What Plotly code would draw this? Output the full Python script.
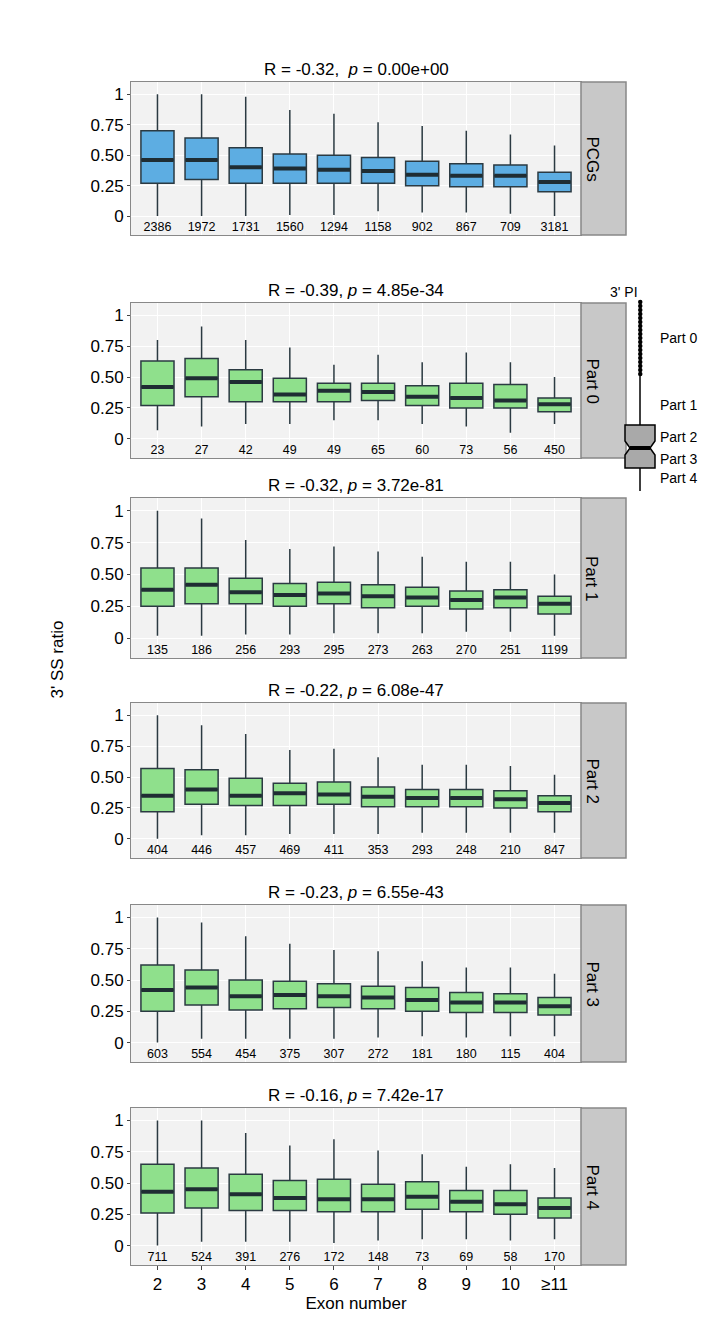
import plotly.graph_objects as go

W, H = 712, 1323

exons = ["2", "3", "4", "5", "6", "7", "8", "9", "10", "≥11"]
panels = ["PCGs", "Part 0", "Part 1", "Part 2", "Part 3", "Part 4"]
titles = [
    "R = -0.32,  <i>p</i> = 0.00e+00",
    "R = -0.39, <i>p</i> = 4.85e-34",
    "R = -0.32, <i>p</i> = 3.72e-81",
    "R = -0.22, <i>p</i> = 6.08e-47",
    "R = -0.23, <i>p</i> = 6.55e-43",
    "R = -0.16, <i>p</i> = 7.42e-17",
]

# per panel: lower whisker, q1, median, q3, upper whisker (one value per exon)
lo = [
    [0, 0, 0, .01, .01, .04, .03, .03, .02, 0],
    [.07, .10, .12, .12, .15, .15, .12, .10, .05, .12],
    [.02, .02, .03, .03, .04, .04, .04, .05, .05, .02],
    [0, .03, .03, .04, .04, .04, .05, .05, .05, .05],
    [0, .03, .03, .03, .03, .04, .05, .04, .05, .05],
    [0, .03, .03, .03, .02, .04, .05, .05, .04, .05],
]
q1 = [
    [.27, .30, .27, .27, .27, .27, .25, .24, .24, .20],
    [.27, .34, .30, .30, .30, .31, .27, .25, .25, .22],
    [.25, .27, .27, .25, .27, .24, .25, .23, .24, .19],
    [.22, .28, .27, .27, .28, .26, .26, .26, .25, .22],
    [.25, .30, .26, .27, .28, .27, .25, .24, .24, .22],
    [.26, .30, .28, .28, .27, .27, .29, .27, .25, .22],
]
med = [
    [.46, .46, .40, .39, .38, .37, .34, .33, .33, .28],
    [.42, .49, .46, .36, .39, .38, .34, .33, .31, .28],
    [.38, .42, .36, .34, .35, .33, .32, .30, .32, .27],
    [.35, .40, .35, .37, .36, .34, .33, .33, .32, .29],
    [.42, .44, .37, .38, .37, .36, .34, .32, .32, .29],
    [.43, .45, .41, .38, .37, .37, .39, .35, .33, .30],
]
q3 = [
    [.70, .64, .56, .51, .50, .48, .45, .43, .42, .36],
    [.63, .65, .56, .49, .45, .45, .43, .45, .44, .33],
    [.55, .55, .47, .43, .44, .42, .40, .37, .38, .33],
    [.57, .56, .49, .45, .46, .42, .40, .40, .39, .35],
    [.62, .58, .50, .49, .47, .45, .44, .40, .39, .36],
    [.65, .62, .57, .52, .53, .49, .51, .44, .44, .38],
]
hi = [
    [1, 1, .98, .87, .84, .77, .74, .70, .67, .58],
    [.80, .91, .80, .74, .60, .68, .62, .70, .62, .50],
    [1, .94, .77, .70, .72, .68, .64, .60, .60, .50],
    [1, .92, .85, .72, .73, .66, .60, .60, .59, .52],
    [1, .96, .85, .79, .74, .73, .65, .60, .60, .55],
    [1, 1, .90, .80, .85, .76, .73, .63, .65, .62],
]
counts = [
    [2386, 1972, 1731, 1560, 1294, 1158, 902, 867, 709, 3181],
    [23, 27, 42, 49, 49, 65, 60, 73, 56, 450],
    [135, 186, 256, 293, 295, 273, 263, 270, 251, 1199],
    [404, 446, 457, 469, 411, 353, 293, 248, 210, 847],
    [603, 554, 454, 375, 307, 272, 181, 180, 115, 404],
    [711, 524, 391, 276, 172, 148, 73, 69, 58, 170],
]

# panel pixel extents (top, bottom), in page pixels
pix = [(82, 235), (303, 458), (498, 658), (703, 858), (905, 1062), (1108, 1265)]
X0, X1, S1 = 131, 581, 626
OFF = 8  # page body margin
px = lambda x: (x - OFF) / W
py = lambda y: 1 - (y - OFF) / H

fig = go.Figure()
layout = dict(width=W, height=H, margin=dict(l=0, r=0, t=0, b=0),
              paper_bgcolor="white", showlegend=False,
              font=dict(family="Liberation Sans, Arial", color="black"))
shapes, annos = [], []

for i in range(6):
    ax = "" if i == 0 else str(i + 1)
    fill = "#5dade2" if i == 0 else "#8fe08c"
    fig.add_trace(go.Box(
        x=exons, q1=q1[i], median=med[i], q3=q3[i],
        lowerfence=lo[i], upperfence=hi[i],
        fillcolor=fill, line=dict(color="#2b3a42", width=1.5),
        width=0.75, whiskerwidth=0, boxpoints=False, hoverinfo="skip",
        xaxis="x" + ax, yaxis="y" + ax))
    fig.add_trace(go.Scatter(
        x=exons, y=med[i], mode="markers",
        marker=dict(symbol="line-ew-open", size=23, color="#1f2d33",
                    line=dict(color="#1f2d33", width=4)),
        hoverinfo="skip", xaxis="x" + ax, yaxis="y" + ax))
    fig.add_trace(go.Scatter(
        x=exons, y=[-0.1] * 10, mode="text", text=[str(c) for c in counts[i]],
        textfont=dict(size=12.5, color="black"), hoverinfo="skip",
        xaxis="x" + ax, yaxis="y" + ax))
    top, bot = pix[i]
    xa = dict(
        domain=[px(X0), px(X1)], anchor="y" + ax, type="category",
        categoryorder="array", categoryarray=exons,
        showticklabels=(i == 5), ticks="outside" if i == 5 else "",
        ticklen=4, tickfont=dict(size=17), showgrid=True, gridcolor="white",
        gridwidth=1.2, showline=True, linecolor="#888", mirror=True,
        zeroline=False, range=[-0.6, 9.6])
    if i == 5:
        xa["title"] = dict(text="Exon number", font=dict(size=17), standoff=2)
    layout["xaxis" + ax] = xa
    layout["yaxis" + ax] = dict(
        domain=[py(bot), py(top)], anchor="x" + ax, range=[-0.155, 1.1],
        tickvals=[0, 0.25, 0.5, 0.75, 1], ticktext=["0", "0.25", "0.50", "0.75", "1"],
        ticks="outside", ticklen=3, tickfont=dict(size=17), showgrid=True,
        gridcolor="white", gridwidth=1.2, showline=True, linecolor="#888",
        mirror=True, zeroline=False)
    shapes.append(dict(type="rect", xref="paper", yref="paper",
                       x0=px(X0), x1=px(X1), y0=py(bot), y1=py(top),
                       fillcolor="#f2f2f2", line=dict(width=0), layer="below"))
    shapes.append(dict(type="rect", xref="paper", yref="paper",
                       x0=px(X1), x1=px(S1), y0=py(bot), y1=py(top),
                       fillcolor="#c8c8c8", line=dict(color="#888", width=1.5)))
    annos.append(dict(text=panels[i], xref="paper", yref="paper",
                      x=px((X1 + S1) / 2), y=py((top + bot) / 2), showarrow=False,
                      yanchor="middle", textangle=90, font=dict(size=17)))
    annos.append(dict(text=titles[i], xref="paper", yref="paper",
                      x=px((X0 + X1) / 2), y=py(top - 1), yanchor="bottom",
                      showarrow=False, font=dict(size=17)))

annos.append(dict(text="3' SS ratio", xref="paper", yref="paper", x=px(45),
                  y=py(660), yanchor="middle", showarrow=False, textangle=-90,
                  font=dict(size=17)))

# 3' PI schematic key
annos.append(dict(text="3' PI", xref="paper", yref="paper", x=px(640), y=py(292),
                  yanchor="middle", showarrow=False, font=dict(size=14)))
for y in range(302, 378, 4):
    shapes.append(dict(type="circle", xref="paper", yref="paper",
                       x0=px(638), x1=px(642.5), y0=py(y + 2.2), y1=py(y - 2.2),
                       fillcolor="black", line=dict(width=0)))
shapes.append(dict(type="line", xref="paper", yref="paper", x0=px(640), x1=px(640),
                   y0=py(376), y1=py(491), line=dict(color="black", width=1.5)))
shapes.append(dict(type="path", xref="paper", yref="paper",
                   path="M {} {} L {} {} L {} {} L {} {} L {} {} L {} {} L {} {} L {} {} L {} {} L {} {} Z".format(
                       px(625), py(425), px(655), py(425), px(655), py(441), px(650), py(448),
                       px(655), py(455), px(655), py(468), px(625), py(468), px(625), py(455),
                       px(630), py(448), px(625), py(441)),
                   fillcolor="#a9a9a9", line=dict(color="black", width=1.5)))
shapes.append(dict(type="line", xref="paper", yref="paper", x0=px(630), x1=px(650),
                   y0=py(448), y1=py(448), line=dict(color="black", width=4)))
for lab, y in [("Part 0", 338), ("Part 1", 405), ("Part 2", 437), ("Part 3", 459), ("Part 4", 478)]:
    annos.append(dict(text=lab, xref="paper", yref="paper", x=px(658), y=py(y),
                      xanchor="left", yanchor="middle", showarrow=False,
                      font=dict(size=14)))

layout["shapes"] = shapes
layout["annotations"] = annos
layout["plot_bgcolor"] = "rgba(0,0,0,0)"
fig.update_layout(**layout)
fig.write_html("out.html")
